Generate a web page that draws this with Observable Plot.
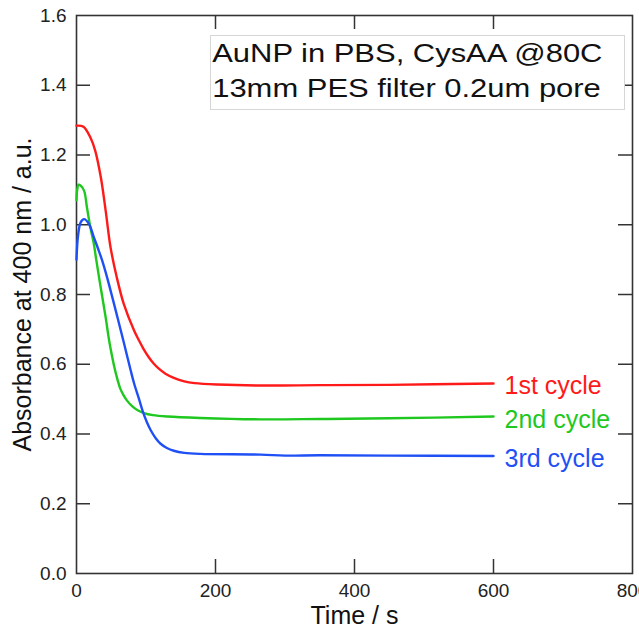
<!DOCTYPE html>
<html>
<head>
<meta charset="utf-8">
<script src="https://cdn.jsdelivr.net/npm/d3@7"></script>
<script src="https://cdn.jsdelivr.net/npm/@observablehq/plot@0.6"></script>
<style>
  html, body { margin: 0; padding: 0; background: white; overflow: hidden; }
  #wrap { position: relative; width: 639px; height: 628px; }
  #note {
    position: absolute; left: 210px; top: 35px; width: 415px; height: 75px;
    box-sizing: border-box; border: 1px solid #d6d6d6; background: white;
    font-family: "Liberation Sans", Arial, sans-serif; font-size: 26px; color: #111;
    line-height: 35px; white-space: nowrap; overflow: hidden;
  }
  #note div { transform: scaleX(1.19); transform-origin: left center; padding-left: 1px; }
</style>
</head>
<body>
<div id="wrap"></div>
<script>
// ---- data ----
const seriesNames = ["1st cycle", "2nd cycle", "3rd cycle"];
const seriesColors = ["#ff1a1a", "#1ec81e", "#1f50f5"];

const t1 = [0, 10, 20, 27, 35, 42, 49, 58, 68, 83, 90, 97, 104, 111, 118, 128, 140, 155, 170, 203, 265, 350, 450, 600];
const a1 = [1.284, 1.281, 1.25, 1.212, 1.136, 1.04, 0.935, 0.849, 0.773, 0.696, 0.668, 0.642, 0.620, 0.602, 0.588, 0.573, 0.561, 0.551, 0.546, 0.542, 0.539, 0.540, 0.541, 0.545];

const t2 = [0, 1, 3, 6, 11, 15, 20, 25, 28, 34, 42, 46, 49, 54, 59, 63, 68, 73, 80, 88, 97, 110, 131, 178, 265, 350, 450, 600];
const a2 = [1.07, 1.10, 1.115, 1.112, 1.097, 1.05, 0.992, 0.945, 0.905, 0.830, 0.734, 0.680, 0.645, 0.596, 0.556, 0.530, 0.510, 0.495, 0.480, 0.468, 0.460, 0.454, 0.450, 0.446, 0.442, 0.443, 0.445, 0.450];

const t3 = [0, 2, 6, 11, 18, 25, 32, 37, 44, 59, 68, 78, 83, 90, 95, 101, 107, 114, 121, 130, 140, 155, 178, 265, 300, 350, 450, 600];
const a3 = [0.90, 0.964, 1.007, 1.016, 1.002, 0.964, 0.926, 0.897, 0.849, 0.734, 0.663, 0.582, 0.544, 0.500, 0.467, 0.435, 0.410, 0.388, 0.372, 0.360, 0.352, 0.346, 0.343, 0.341, 0.338, 0.339, 0.338, 0.337];

const xTicks = [0, 200, 400, 600, 800];
const yTicks = [0.0, 0.2, 0.4, 0.6, 0.8, 1.0, 1.2, 1.4, 1.6];
const xLabel = "Time / s";
const yLabel = "Absorbance at 400 nm / a.u.";
const noteLines = ["AuNP in PBS, CysAA @80C", "13mm PES filter 0.2um pore"];

// ---- build table ----
const times = [t1, t2, t3];
const absorb = [a1, a2, a3];
const rows = [];
seriesNames.forEach((name, i) => {
  times[i].forEach((t, j) => rows.push({series: name, t, a: absorb[i][j]}));
});
const ends = seriesNames.map((name, i) => ({
  series: name, t: times[i][times[i].length - 1], a: absorb[i][absorb[i].length - 1]
}));

const W = 639, H = 628, mL = 76, mR = 7, mT = 15, mB = 55;
const xDom = [0, 800], yDom = [0, 1.6];
const tickPx = 14;
const xTickLen = tickPx * (xDom[1] - xDom[0]) / (W - mL - mR);
const yTickLen = tickPx * (yDom[1] - yDom[0]) / (H - mT - mB);
const innerX = xTicks.slice(1, -1);
const innerY = yTicks.slice(1, -1);
const tickColor = "#333";

const chart = Plot.plot({
  width: W, height: H,
  marginLeft: mL, marginRight: mR, marginTop: mT, marginBottom: mB,
  style: {fontFamily: "'Liberation Sans', Arial, sans-serif", fontSize: "19px", color: "#222", background: "white"},
  x: {domain: xDom, ticks: xTicks, tickSize: 0, tickPadding: 10, label: null, tickFormat: d => String(d)},
  y: {domain: yDom, ticks: yTicks, tickSize: 0, tickPadding: 10, label: null, tickFormat: d => d.toFixed(1)},
  color: {domain: seriesNames, range: seriesColors},
  marks: [
    // inward ticks
    Plot.ruleY(innerY, {y: d => d, x1: xDom[0], x2: xDom[0] + xTickLen, stroke: tickColor, strokeWidth: 1.5}),
    Plot.ruleY(innerY, {y: d => d, x1: xDom[1] - xTickLen, x2: xDom[1], stroke: tickColor, strokeWidth: 1.5}),
    Plot.ruleX(innerX, {x: d => d, y1: yDom[0], y2: yDom[0] + yTickLen, stroke: tickColor, strokeWidth: 1.5}),
    Plot.ruleX(innerX, {x: d => d, y1: yDom[1] - yTickLen, y2: yDom[1], stroke: tickColor, strokeWidth: 1.5}),
    Plot.frame({stroke: tickColor, strokeWidth: 1.6}),
    Plot.line(rows, {x: "t", y: "a", z: "series", stroke: "series", strokeWidth: 2.4, curve: "catmull-rom"}),
    Plot.text(ends, {x: "t", y: "a", text: "series", fill: "series", textAnchor: "start", dx: 11, dy: 3, fontSize: 25}),
    Plot.text([yLabel], {frameAnchor: "left", textAnchor: "middle", lineAnchor: "middle", rotate: -90, dx: -54, fontSize: 25, fill: "#111"}),
    Plot.text([xLabel], {frameAnchor: "bottom", lineAnchor: "middle", dy: 42, fontSize: 25, fill: "#111"})
  ]
});

const wrap = document.getElementById("wrap");
wrap.appendChild(chart);
const note = document.createElement("div");
note.id = "note";
noteLines.forEach(l => { const d = document.createElement("div"); d.textContent = l; note.appendChild(d); });
wrap.appendChild(note);
</script>
</body>
</html>
